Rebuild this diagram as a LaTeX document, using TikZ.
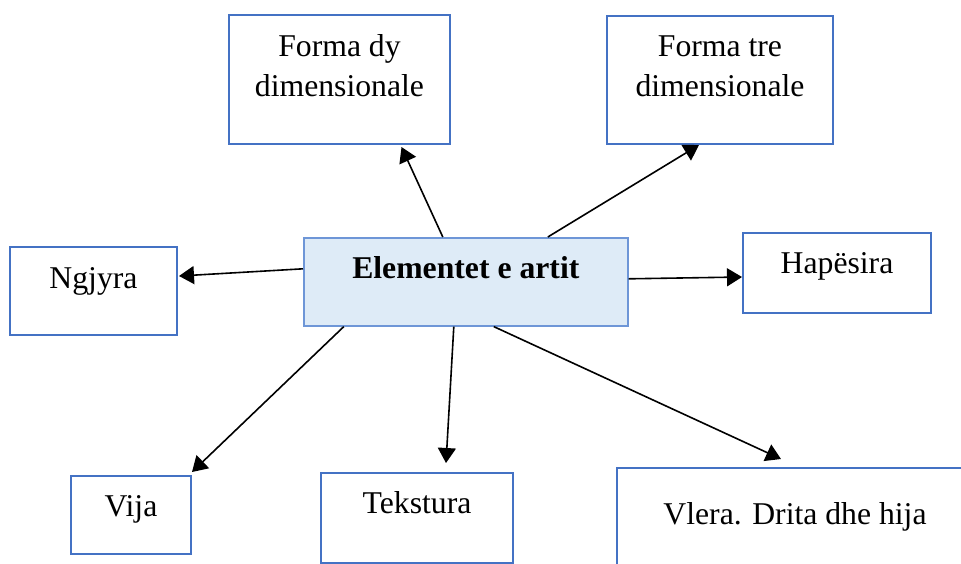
\documentclass[tikz,border=0pt]{standalone}
\usepackage{fontspec}
\setmainfont{Liberation Serif}
\usepackage{tikz}
\usetikzlibrary{arrows.meta}
\definecolor{boxblue}{RGB}{68,114,196}
\definecolor{centerline}{RGB}{110,150,215}
\definecolor{centerfill}{RGB}{222,235,247}
\tikzset{elem node/.style={draw=boxblue,line width=1pt,inner sep=0pt,anchor=north west,align=center,font=\fontsize{15.85pt}{20pt}\selectfont,text height=20.5pt}}

\begin{document}
\begin{tikzpicture}[x=0.5pt,y=-0.5pt]
    \useasboundingbox (0,0) rectangle (961,563);
    \clip (0,0) rectangle (961,563);

    \node[elem node,minimum width=162pt,text depth=23.5pt,draw=centerline,line width=0.8pt,fill=centerfill,font=\fontsize{15.85pt}{20pt}\selectfont\bfseries] (v_{0}) at (303,237) {Elementet e artit};
    \node[elem node,minimum width=110.5pt,text height=40.5pt,text depth=24pt] (v_{1}) at (228,14) {Forma dy\\dimensionale};
    \node[elem node,minimum width=113pt,text height=40pt,text depth=24pt] (v_{2}) at (606,15) {Forma tre\\dimensionale};
    \node[elem node,minimum width=83.5pt,text depth=23.5pt] (v_{3}) at (9,246) {Ngjyra};
    \node[elem node,minimum width=94pt,text depth=20pt,text height=20pt] (v_{4}) at (742,232) {Hapësira};
    \node[elem node,minimum width=60pt,text depth=19pt,text height=20pt] (v_{5}) at (70,475) {Vija};
    \node[elem node,minimum width=96pt,text depth=25pt,text height=20pt] (v_{6}) at (320,472) {Tekstura};
    \node[elem node,minimum width=178pt,text depth=32pt,text height=28pt] (v_{7}) at (616,467) {Vlera. Drita dhe hija};

    \path [-{Triangle[length=7.5pt,width=9pt]},line width=0.8pt]
    ([shift={(-23,0)}]v_{0}.north) edge ([shift={(62,2)}]v_{1}.south)
    ([shift={(82,0)}]v_{0}.north) edge ([shift={(-21,0)}]v_{2}.south)
    ([shift={(0,-13)}]v_{0}.west) edge ([shift={(1,-15)}]v_{3}.east)
    ([shift={(0,-3)}]v_{0}.east) edge ([shift={(0,4)}]v_{4}.west)
    ([shift={(-122,0)}]v_{0}.south) edge ([shift={(0,-3)}]v_{5}.north east)
    ([shift={(-12,0)}]v_{0}.south) edge ([shift={(29,-9)}]v_{6}.north)
    ([shift={(28,0)}]v_{0}.south) edge ([shift={(-14,-8)}]v_{7}.north);

\end{tikzpicture}
\end{document}
